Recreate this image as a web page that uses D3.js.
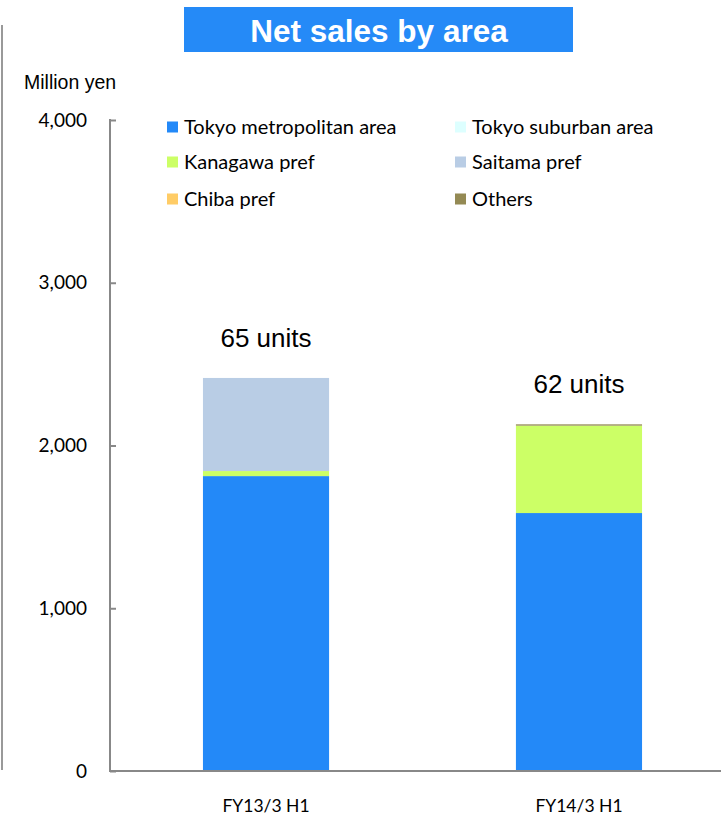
<!DOCTYPE html>
<html>
<head>
<meta charset="utf-8">
<script src="https://cdn.jsdelivr.net/npm/d3@7"></script>
<style>
  html, body { margin: 0; padding: 0; background: #fff; }
  svg { display: block; }
</style>
</head>
<body>
<script>
// Net sales by area (million yen), stacked by region
const categories = ["FY13/3 H1", "FY14/3 H1"];
const areas = ["Tokyo metropolitan area", "Tokyo suburban area", "Kanagawa pref", "Saitama pref", "Chiba pref", "Others"];
const areaColors = ["#2389F8", "#DDFFFF", "#CCFF66", "#B9CDE5", "#FFCC66", "#948A54"];
const tokyoMetro = [1812, 1585];
const tokyoSuburban = [0, 0];
const kanagawa = [31, 537];
const saitama = [572, 0];
const chiba = [0, 0];
const others = [0, 8];
const unitLabels = ["65 units", "62 units"];
const yTicks = [0, 1000, 2000, 3000, 4000];

const seriesValues = [tokyoMetro, tokyoSuburban, kanagawa, saitama, chiba, others];
const rows = categories.map((c, i) => {
  const r = { category: c };
  areas.forEach((a, k) => { r[a] = seriesValues[k][i]; });
  return r;
});

const W = 721, H = 816;
const svg = d3.select("body").append("svg").attr("width", W).attr("height", H);

const calibriLike = "Lato, 'Open Sans', sans-serif";
const arialLike = "'Liberation Sans', Arial, sans-serif";

// Frame line on the far left
svg.append("line").attr("x1", 2).attr("x2", 2).attr("y1", 25).attr("y2", 770)
  .attr("stroke", "#999").attr("stroke-width", 2);

// Title banner
svg.append("rect").attr("x", 184).attr("y", 7).attr("width", 389).attr("height", 45).attr("fill", "#258AF7");
svg.append("text").attr("x", 379).attr("y", 42).attr("text-anchor", "middle")
  .attr("font-family", arialLike).attr("font-weight", "bold").attr("font-size", 31.5)
  .attr("fill", "#fff").text("Net sales by area");

// Unit caption
svg.append("text").attr("x", 24).attr("y", 89).attr("font-family", arialLike)
  .attr("font-size", 19.5).attr("fill", "#000").text("Million yen");

const x0 = 110, x1 = 721;
const y = d3.scaleLinear().domain([0, 4000]).range([771, 120]);
const x = d3.scaleBand().domain(categories).range([x0, 735]).paddingInner(0.597).paddingOuter(0.297);

// Stacked bars
const stack = d3.stack().keys(areas);
const layers = stack(rows);
svg.append("g").selectAll("g").data(layers).join("g")
  .attr("fill", (d, i) => areaColors[i])
  .selectAll("rect").data(d => d).join("rect")
  .attr("x", d => x(d.data.category))
  .attr("width", x.bandwidth())
  .attr("y", d => y(d[1]))
  .attr("height", d => y(d[0]) - y(d[1]));

// Y axis with inward ticks
const yAxis = d3.axisRight(y).tickValues(yTicks).tickSize(6).tickFormat("");
const ag = svg.append("g").attr("transform", `translate(${x0},0)`).call(yAxis);
ag.select(".domain").remove();
ag.selectAll(".tick line").attr("stroke", "#888").attr("stroke-width", 2);
svg.append("line").attr("x1", x0).attr("x2", x0).attr("y1", y(4000) - 1).attr("y2", y(0) + 1)
  .attr("stroke", "#888").attr("stroke-width", 2);
svg.append("line").attr("x1", x0 - 1).attr("x2", x1).attr("y1", y(0)).attr("y2", y(0))
  .attr("stroke", "#888").attr("stroke-width", 2);

// Tick labels
svg.append("g").selectAll("text").data(yTicks).join("text")
  .attr("x", 87).attr("y", d => y(d) + 6.5).attr("text-anchor", "end")
  .attr("font-family", calibriLike).attr("font-size", 19).attr("fill", "#000")
  .text(d => d3.format(",")(d));

// Category labels
svg.append("g").selectAll("text").data(categories).join("text")
  .attr("x", d => x(d) + x.bandwidth() / 2).attr("y", 812).attr("text-anchor", "middle")
  .attr("font-family", calibriLike).attr("font-size", 17.5).attr("fill", "#000")
  .text(d => d);

// Unit counts above each bar
const totals = rows.map(r => d3.sum(areas, a => r[a]));
svg.append("g").selectAll("text").data(categories).join("text")
  .attr("x", (d, i) => x(d) + x.bandwidth() / 2)
  .attr("y", (d, i) => y(totals[i]) - 31)
  .attr("text-anchor", "middle").attr("font-family", arialLike).attr("font-size", 26)
  .attr("fill", "#000").text((d, i) => unitLabels[i]);

// Legend, two columns
const leg = svg.append("g").selectAll("g").data(areas).join("g")
  .attr("transform", (d, i) => `translate(${i % 2 === 0 ? 167 : 455},${[127, 162, 199][Math.floor(i / 2)]})`);
leg.append("rect").attr("x", 0).attr("y", -5.5).attr("width", 11).attr("height", 11)
  .attr("fill", (d, i) => areaColors[i]);
leg.append("text").attr("x", 17).attr("y", 7).attr("font-family", calibriLike)
  .attr("font-size", 20).attr("fill", "#000").text(d => d);
</script>
</body>
</html>
